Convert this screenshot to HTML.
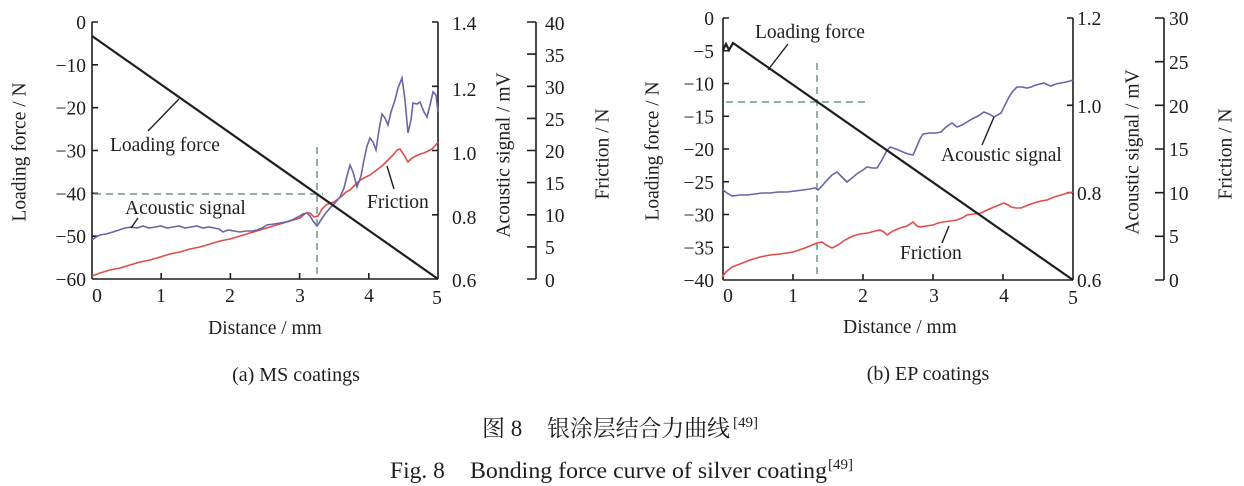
<!DOCTYPE html>
<html>
<head>
<meta charset="utf-8">
<style>
html,body{margin:0;padding:0;background:#fff;}
svg{display:block;}
text{font-family:"Liberation Serif","Noto Serif CJK SC",serif;fill:#1e1e1e;}
</style>
</head>
<body>
<svg width="1244" height="486" viewBox="0 0 1244 486" xmlns="http://www.w3.org/2000/svg">
<rect width="1244" height="486" fill="#fff"/>

<!-- ================= LEFT CHART (a) ================= -->
<g stroke="#1e1e1e" stroke-width="1.6" fill="none">
  <line x1="92" y1="22" x2="92" y2="279"/>
  <path d="M92,22h6 M92,64.8h6 M92,107.7h6 M92,150.5h6 M92,193.3h6 M92,236.2h6"/>
  <line x1="92" y1="279" x2="438" y2="279"/>
  <path d="M161.2,279v-6 M230.4,279v-6 M299.6,279v-6 M368.8,279v-6"/>
  <line x1="438" y1="22" x2="438" y2="279"/>
  <path d="M438,22h-6 M438,86.3h-6 M438,150.5h-6 M438,214.8h-6"/>
  <line x1="536" y1="22" x2="536" y2="279"/>
  <path d="M536,22h-9 M536,54.1h-9 M536,86.3h-9 M536,118.4h-9 M536,150.5h-9 M536,182.6h-9 M536,214.8h-9 M536,246.9h-9 M536,279h-9"/>
</g>

<g font-size="19.5">
  <g text-anchor="end">
    <text x="86" y="29">0</text>
    <text x="86" y="71.8">−10</text>
    <text x="86" y="114.7">−20</text>
    <text x="86" y="157.5">−30</text>
    <text x="86" y="200.3">−40</text>
    <text x="86" y="243.2">−50</text>
    <text x="86" y="286">−60</text>
  </g>
  <g text-anchor="middle">
    <text x="97" y="302">0</text>
    <text x="161" y="302">1</text>
    <text x="230" y="302">2</text>
    <text x="300" y="302">3</text>
    <text x="369" y="302">4</text>
    <text x="437" y="304">5</text>
  </g>
  <text x="452" y="30">1.4</text>
  <text x="452" y="96">1.2</text>
  <text x="452" y="160">1.0</text>
  <text x="452" y="224">0.8</text>
  <text x="452" y="287">0.6</text>

  <text x="545" y="30">40</text>
  <text x="545" y="62">35</text>
  <text x="545" y="94">30</text>
  <text x="545" y="126">25</text>
  <text x="545" y="158">20</text>
  <text x="545" y="190">15</text>
  <text x="545" y="222">10</text>
  <text x="545" y="254">5</text>
  <text x="545" y="287">0</text>

  <text x="0" y="0" text-anchor="middle" dominant-baseline="central" transform="translate(20,152) rotate(-90)">Loading force / N</text>
  <text x="0" y="0" text-anchor="middle" dominant-baseline="central" transform="translate(504,155) rotate(-90)">Acoustic signal / mV</text>
  <text x="0" y="0" text-anchor="middle" dominant-baseline="central" transform="translate(603,154) rotate(-90)">Friction / N</text>

  <text x="265" y="334" text-anchor="middle">Distance / mm</text>
  <text x="296" y="381" text-anchor="middle" font-size="20">(a) MS coatings</text>

  <text x="110" y="151">Loading force</text>
  <text x="125" y="214">Acoustic signal</text>
  <text x="367" y="208">Friction</text>
</g>

<g stroke="#6f9a7c" stroke-width="1.5" stroke-dasharray="7,5" fill="none">
  <line x1="94" y1="194" x2="323" y2="194"/>
  <line x1="317" y1="147" x2="317" y2="278"/>
</g>

<polyline fill="none" stroke="#dd4f48" stroke-width="1.6" points="92,276 100,273 110,270 120,268 130,265 140,262 150,260 160,257 170,254 180,252 190,249 200,247 210,244 220,241 230,239 240,236 250,233 260,230 270,227 280,224 290,221 300,218 306,213 310,213 314,217 318,216 322,209 326,205 330,203 334,202 338,199 342,196 346,192 350,190 354,186 358,182 362,179 366,177 370,175 374,172 378,169 382,166 386,162 390,158 394,154 397,150 400,149 404,155 408,162 412,158 416,156 420,154 424,153 428,151 432,149 435,146 438,142"/>
<polyline fill="none" stroke="#6c64a8" stroke-width="1.6" points="92,240 96,237 100,235 106,234 113,232 119,230 125,228 131,227 137,228 143,226 149,228 155,227 161,226 167,228 173,227 179,226 185,228 191,227 197,226 203,228 209,227 214,228 219,229 223,232 228,230 234,231 240,232 246,231 252,231 257,230 262,228 267,225 274,224 280,223 286,222 292,220 298,217 303,214 307,213 310,216 313,221 317,226 321,220 325,214 330,208 335,203 340,197 344,188 347,176 350,165 353,172 357,187 361,176 364,160 367,146 370,138 373,142 376,150 379,130 382,114 385,118 388,125 391,112 395,100 398,88 402,78 405,100 408,133 411,120 413,103 417,104 420,102 424,112 427,117 430,105 433,92 436,95 438,112"/>
<line x1="92" y1="36" x2="438" y2="279" stroke="#1e1e1e" stroke-width="2.2"/>

<g stroke="#1e1e1e" stroke-width="1.4">
  <line x1="148" y1="131" x2="179" y2="99"/>
  <line x1="138" y1="218" x2="131" y2="228"/>
  <line x1="394" y1="189" x2="387" y2="166"/>
</g>

<!-- ================= RIGHT CHART (b) ================= -->
<g stroke="#1e1e1e" stroke-width="1.6" fill="none">
  <line x1="723" y1="18" x2="723" y2="280"/>
  <path d="M723,18h6 M723,50.75h6 M723,83.5h6 M723,116.25h6 M723,149h6 M723,181.75h6 M723,214.5h6 M723,247.25h6"/>
  <line x1="723" y1="280" x2="1073" y2="280"/>
  <path d="M793,280v-6 M863,280v-6 M933,280v-6 M1003,280v-6"/>
  <line x1="1073" y1="18" x2="1073" y2="280"/>
  <path d="M1073,18h-6 M1073,105.3h-6 M1073,192.7h-6"/>
  <line x1="1164" y1="18" x2="1164" y2="280"/>
  <path d="M1164,18h-9 M1164,61.7h-9 M1164,105.3h-9 M1164,149h-9 M1164,192.7h-9 M1164,236.3h-9 M1164,280h-9"/>
</g>

<g font-size="19.5">
  <g text-anchor="end">
    <text x="714" y="25">0</text>
    <text x="714" y="57.75">−5</text>
    <text x="714" y="90.5">−10</text>
    <text x="714" y="123.25">−15</text>
    <text x="714" y="156">−20</text>
    <text x="714" y="188.75">−25</text>
    <text x="714" y="221.5">−30</text>
    <text x="714" y="254.25">−35</text>
    <text x="714" y="287">−40</text>
  </g>
  <g text-anchor="middle">
    <text x="728" y="302">0</text>
    <text x="793" y="302">1</text>
    <text x="863" y="302">2</text>
    <text x="934" y="302">3</text>
    <text x="1004" y="302">4</text>
    <text x="1073" y="304">5</text>
  </g>
  <text x="1077" y="25">1.2</text>
  <text x="1077" y="113">1.0</text>
  <text x="1077" y="200">0.8</text>
  <text x="1077" y="287">0.6</text>

  <text x="1169" y="25">30</text>
  <text x="1169" y="69">25</text>
  <text x="1169" y="113">20</text>
  <text x="1169" y="156">15</text>
  <text x="1169" y="200">10</text>
  <text x="1169" y="243">5</text>
  <text x="1169" y="287">0</text>

  <text x="0" y="0" text-anchor="middle" dominant-baseline="central" transform="translate(653,151) rotate(-90)">Loading force / N</text>
  <text x="0" y="0" text-anchor="middle" dominant-baseline="central" transform="translate(1133,152) rotate(-90)">Acoustic signal / mV</text>
  <text x="0" y="0" text-anchor="middle" dominant-baseline="central" transform="translate(1226,154) rotate(-90)">Friction / N</text>

  <text x="900" y="333" text-anchor="middle">Distance / mm</text>
  <text x="928" y="380" text-anchor="middle" font-size="20">(b) EP coatings</text>

  <text x="755" y="38">Loading force</text>
  <text x="941" y="161">Acoustic signal</text>
  <text x="900" y="259">Friction</text>
</g>

<g stroke="#6f9a7c" stroke-width="1.5" stroke-dasharray="7,5" fill="none">
  <line x1="726" y1="102" x2="870" y2="102"/>
  <line x1="817" y1="63" x2="817" y2="279"/>
</g>

<polyline fill="none" stroke="#dd4f48" stroke-width="1.6" points="722,277 726,272 732,267 740,264 750,260 760,257 770,255 780,254 793,252 805,248 812,245 817,243 822,242 826,245 832,248 838,245 845,240 853,236 860,234 868,233 875,231 880,230 884,232 887,235 893,231 900,228 907,226 913,222 917,226 920,227 926,226 933,225 938,223 943,222 950,221 957,220 962,218 967,215 974,214 981,213 987,210 994,207 999,205 1004,203 1008,205 1011,207 1016,208 1021,208 1028,205 1034,203 1041,201 1047,200 1054,197 1061,195 1068,193 1073,192"/>
<polyline fill="none" stroke="#6c64a8" stroke-width="1.6" points="722,189 727,193 732,196 740,195 747,195 755,194 762,193 770,193 778,192 787,192 795,191 803,190 810,189 815,188 818,190 822,186 827,180 832,175 837,172 842,177 847,182 852,178 858,173 863,170 867,167 872,168 877,168 882,160 886,152 890,147 896,149 903,152 908,154 913,155 917,146 920,139 923,134 930,133 936,133 941,132 946,127 952,123 957,127 962,125 967,122 972,119 978,116 984,112 989,114 994,117 1001,113 1005,105 1009,97 1013,91 1017,87 1022,87 1027,88 1031,87 1036,85 1040,84 1044,83 1048,85 1051,86 1056,84 1061,83 1066,82 1070,81 1073,80"/>
<polyline fill="none" stroke="#1e1e1e" stroke-width="2.2" points="723,50 726,44 729,50 733,43 1073,280"/>

<g stroke="#1e1e1e" stroke-width="1.4">
  <line x1="788" y1="44" x2="768" y2="70"/>
  <line x1="982" y1="145" x2="994" y2="117"/>
  <line x1="942" y1="243" x2="949" y2="226"/>
</g>

<!-- ================= CAPTIONS ================= -->
<text x="482" y="436" font-size="23">图 8</text>
<text x="547" y="436" font-size="23" textLength="183" lengthAdjust="spacing" style="font-family:'Noto Serif CJK SC','Noto Sans CJK SC',serif;">银涂层结合力曲线</text>
<text x="733" y="427" font-size="15">[49]</text>

<text x="390" y="478" font-size="23.5">Fig. 8</text>
<text x="470" y="478" font-size="23.5" textLength="357" lengthAdjust="spacingAndGlyphs">Bonding force curve of silver coating</text>
<text x="828" y="469" font-size="15">[49]</text>
</svg>
</body>
</html>
